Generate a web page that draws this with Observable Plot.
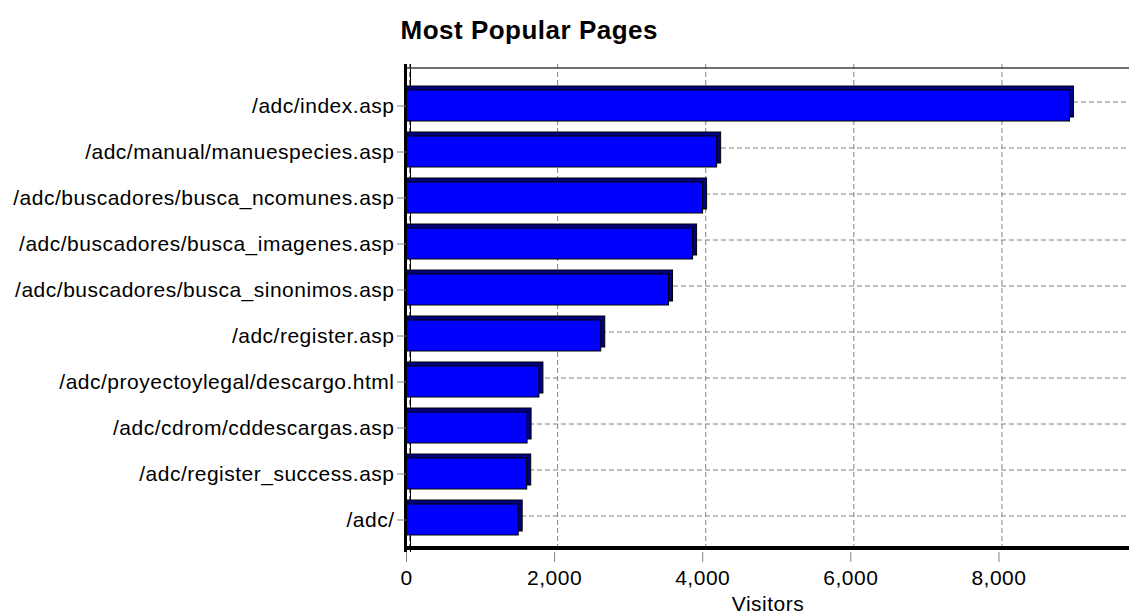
<!DOCTYPE html>
<html><head><meta charset="utf-8">
<script src="https://cdn.jsdelivr.net/npm/d3@7"></script>
<script src="https://cdn.jsdelivr.net/npm/@observablehq/plot@0.6"></script>
<style>body{margin:0;background:#fff;} svg{display:block}</style>
</head><body><div id="chart"></div>
<script>
const pages = [
  "/adc/index.asp",
  "/adc/manual/manuespecies.asp",
  "/adc/buscadores/busca_ncomunes.asp",
  "/adc/buscadores/busca_imagenes.asp",
  "/adc/buscadores/busca_sinonimos.asp",
  "/adc/register.asp",
  "/adc/proyectoylegal/descargo.html",
  "/adc/cdrom/cddescargas.asp",
  "/adc/register_success.asp",
  "/adc/"
];
const visitors = [8960, 4195, 4005, 3870, 3545, 2630, 1795, 1635, 1630, 1515];
const xTicks = [0, 2000, 4000, 6000, 8000];
const title = "Most Popular Pages";
const xLabel = "Visitors";

const data = pages.map((page, i) => ({page, visitors: visitors[i]}));
const font = "'Liberation Sans', Arial, sans-serif";
const grid = "#808080";

const chart = Plot.plot({
  width: 1129, height: 614,
  marginLeft: 406, marginRight: 0, marginTop: 64, marginBottom: 62,
  style: {fontFamily: font, fontSize: "21px", color: "black", background: "white", letterSpacing: "0.5px"},
  x: {domain: [0, 9763]},
  y: {domain: pages, range: [78.5, 547.5], paddingInner: 0.318, paddingOuter: 0.159},
  marks: [
    Plot.ruleX(xTicks, {x: d => d, dx: 3, stroke: grid, strokeDasharray: "5,3"}),
    Plot.ruleY(pages, {y: d => d, dx: 3, dy: -4, stroke: grid, strokeDasharray: "5,3"}),
    Plot.ruleX([0], {dx: 4, stroke: "black"}),
    Plot.barX(data, {x: "visitors", y: "page", dx: 4, dy: -4, insetLeft: -4, fill: "#000080", stroke: "black"}),
    Plot.barX(data, {x: "visitors", y: "page", fill: "#0000FF", stroke: "black"}),
    Plot.ruleY([pages[0]], {dy: -38, stroke: "#404040", strokeWidth: 1.5}),
    Plot.ruleY([pages[pages.length - 1]], {dy: 28, stroke: "black", strokeWidth: 4}),
    Plot.ruleX([0], {dx: -1, stroke: "black", strokeWidth: 3}),
    Plot.axisX({ticks: xTicks, tickFormat: d3.format(","), tickSize: 10, tickPadding: 8, stroke: grid, fill: "black", label: null}),
    Plot.axisY({tickSize: 9, tickPadding: 3, stroke: grid, fill: "black", label: null}),
    Plot.text([xLabel], {frameAnchor: "bottom", dy: 44, lineAnchor: "top", fontSize: 21, fill: "black"}),
    Plot.text([title], {frameAnchor: "top-left", dx: -6, dy: -44, lineAnchor: "top", textAnchor: "start", fontWeight: "bold", fontSize: 26, fill: "black"})
  ]
});
document.getElementById("chart").appendChild(chart);
</script>
</body></html>
